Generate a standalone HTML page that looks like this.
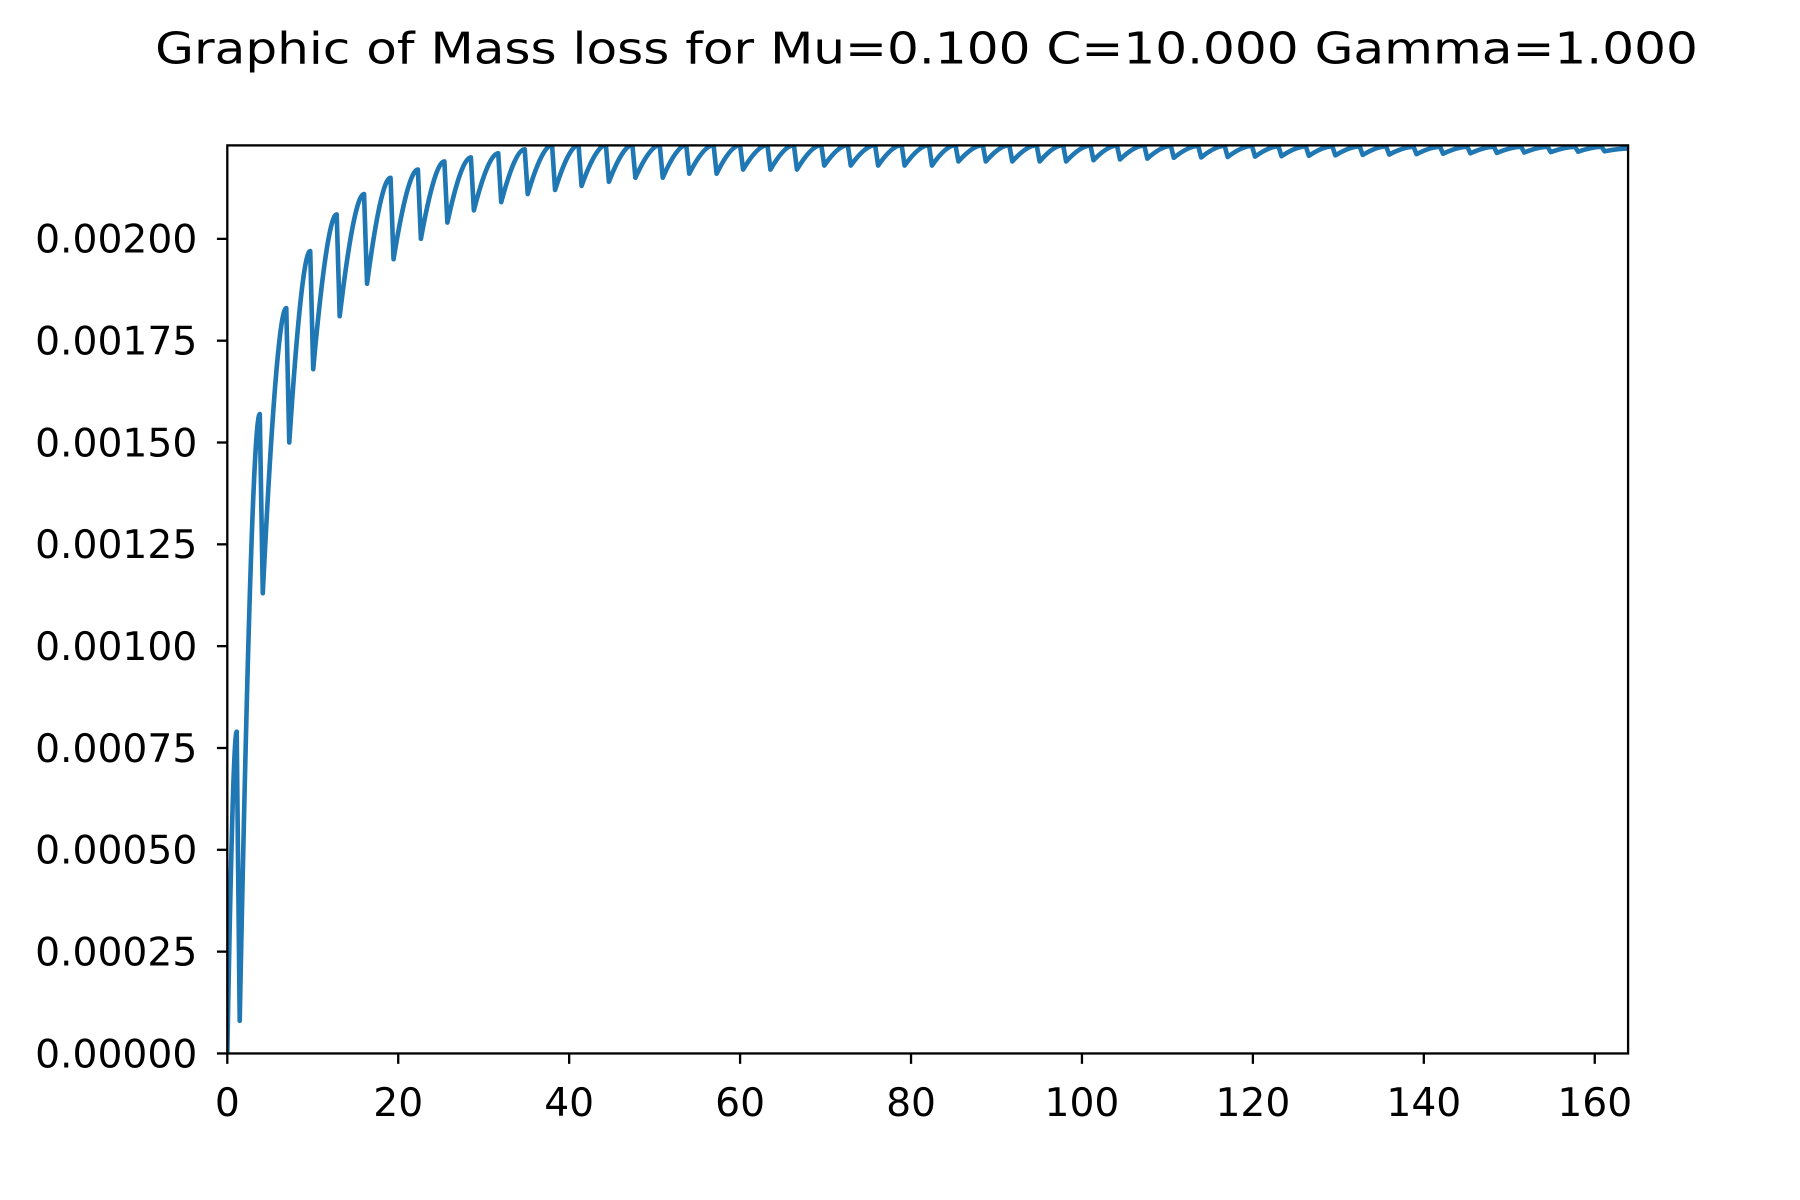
<!DOCTYPE html>
<html><head><meta charset="utf-8"><style>
html,body{margin:0;padding:0;background:#fff;}
svg{display:block;}
text{font-family:"DejaVu Sans","Liberation Sans",sans-serif;fill:#000;}
</style></head><body>
<svg id="chart" width="1800" height="1200" viewBox="0 0 1560 1040" preserveAspectRatio="none" xmlns="http://www.w3.org/2000/svg">
<rect width="1560" height="1040" fill="#fff"/>
<text x="803" y="55" text-anchor="middle" font-size="38" textLength="1337" lengthAdjust="spacingAndGlyphs">Graphic of Mass loss for Mu=0.100 C=10.000 Gamma=1.000</text>
<g id="xt"></g>
<g id="yt"></g>
<clipPath id="clip"><rect x="197" y="126" width="1214" height="787"/></clipPath>
<path id="line" fill="none" stroke="#1f77b4" stroke-width="4" stroke-linejoin="round" clip-path="url(#clip)"/>
<rect x="197" y="126" width="1214" height="787" fill="none" stroke="#000" stroke-width="2"/>
</svg>
<script>
const xTicks = [0,20,40,60,80,100,120,140,160];
const yTicks = [0,0.00025,0.0005,0.00075,0.001,0.00125,0.0015,0.00175,0.002];
const yTickLabels = ["0.00000","0.00025","0.00050","0.00075","0.00100","0.00125","0.00150","0.00175","0.00200"];
const peakX = [1.1,3.8,6.9,9.7,12.8,16.0,19.1,22.3,25.4,28.5,31.7,34.8,38.0,41.1,44.3,47.4,50.6,53.7,56.9,60.0,63.2,66.3,69.5,72.6,75.8,78.9,82.1,85.2,88.4,91.5,94.7,97.8,101.0,104.1,107.3,110.4,113.6,116.7,119.9,123.0,126.2,129.3,132.5,135.6,138.8,141.9,145.1,148.2,151.4,154.5,157.7,160.8];
const peakY = [0.00079,0.00157,0.00183,0.00197,0.00206,0.00211,0.00215,0.00217,0.00219,0.0022,0.00221,0.00222,0.00223,0.00223,0.00223,0.00223,0.00223,0.00223,0.00223,0.00223,0.00223,0.00223,0.00223,0.00223,0.00223,0.00223,0.00223,0.00223,0.00223,0.00223,0.00223,0.00223,0.002229,0.002229,0.002229,0.002228,0.002228,0.002228,0.002228,0.002227,0.002227,0.002227,0.002227,0.002227,0.002226,0.002226,0.002226,0.002226,0.002226,0.002226,0.002226,0.002226];
const troughY = [0.00008,0.00113,0.0015,0.00168,0.00181,0.00189,0.00195,0.002,0.00204,0.00207,0.00209,0.00211,0.00212,0.00213,0.00214,0.00215,0.00215,0.00216,0.00216,0.00217,0.00217,0.00217,0.00218,0.00218,0.00218,0.00218,0.00218,0.00219,0.00219,0.00219,0.00219,0.00219,0.002193,0.002195,0.002197,0.002199,0.0022,0.002201,0.002202,0.002203,0.002204,0.002205,0.002206,0.002207,0.002208,0.002209,0.00221,0.002211,0.002212,0.002213,0.002214,0.002215];
const endX = 164, endY = 0.002222;

const X0=197, X1=1411, Y0=913, Y1=126, XMAX=163.9, YMAX=0.0022295;
const sx = v => X0 + v/XMAX*(X1-X0);
const sy = v => Y0 - v/YMAX*(Y0-Y1);
const NS="http://www.w3.org/2000/svg";
const xt=document.getElementById('xt'), yt=document.getElementById('yt');
xTicks.forEach(t=>{
  const l=document.createElementNS(NS,'line');
  l.setAttribute('x1',sx(t));l.setAttribute('x2',sx(t));l.setAttribute('y1',Y0);l.setAttribute('y2',Y0+9);
  l.setAttribute('stroke','#000');l.setAttribute('stroke-width','2');
  
  
  xt.appendChild(l);
  const tx=document.createElementNS(NS,'text');
  tx.setAttribute('x',sx(t));tx.setAttribute('y',Y0+54);tx.setAttribute('text-anchor','middle');tx.setAttribute('font-size','34');
  tx.textContent=String(t);
  
  
  xt.appendChild(tx);
});
yTicks.forEach((t,i)=>{
  const l=document.createElementNS(NS,'line');
  l.setAttribute('x1',X0-9);l.setAttribute('x2',X0);l.setAttribute('y1',sy(t));l.setAttribute('y2',sy(t));
  l.setAttribute('stroke','#000');l.setAttribute('stroke-width','2');
  
  
  yt.appendChild(l);
  const tx=document.createElementNS(NS,'text');
  tx.setAttribute('x',X0-26);tx.setAttribute('y',sy(t)+12);tx.setAttribute('text-anchor','end');tx.setAttribute('font-size','34');
  tx.textContent=yTickLabels[i];
  
  
  yt.appendChild(tx);
});
let d='M'+sx(0)+','+sy(0);
let px=0;
for(let i=0;i<peakX.length;i++){
  const x=peakX[i], y=peakY[i];
  const cx = px + (x-px)*0.6, cy = y;
  d+=' Q'+sx(cx)+','+sy(cy)+' '+sx(x)+','+sy(y);
  const tx = x+0.35, ty = troughY[i];
  d+=' L'+sx(tx)+','+sy(ty);
  px=tx;
}
d+=' Q'+sx(px+(endX-px)*0.6)+','+sy(endY)+' '+sx(endX)+','+sy(endY);
document.getElementById('line').setAttribute('d',d);
</script>
</body></html>
